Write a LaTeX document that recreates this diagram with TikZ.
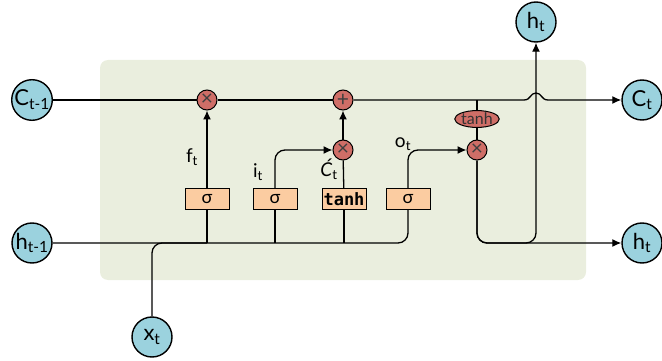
\documentclass[tikz,border=0pt]{standalone}
\usepackage{fontspec}
\setmainfont{Lato}
\setmonofont{DejaVu Sans Mono}
\usetikzlibrary{arrows.meta,shapes.geometric}
\definecolor{cellbg}{RGB}{234,238,222}
\definecolor{statecol}{RGB}{155,210,222}
\definecolor{opcol}{RGB}{207,110,103}
\definecolor{gatecol}{RGB}{251,204,161}
\tikzset{
  cellstate/.style={circle, draw, line width=1.4pt, fill=statecol, minimum size=40pt, inner sep=0pt, font=\fontsize{22}{24}\selectfont},
  gate/.style={draw, line width=1pt, fill=gatecol, minimum width=44pt, minimum height=21pt, inner sep=0pt, font=\fontsize{18}{19}\selectfont},
  op/.style={circle, draw, line width=1pt, fill=opcol, minimum size=20pt, inner sep=0pt, text=black!75, font=\fontsize{21}{21}\selectfont},
  squash/.style={ellipse, draw, line width=1pt, fill=opcol, minimum width=41pt, minimum height=16pt, inner sep=0pt, text=black!80, font=\fontsize{16}{16}\selectfont},
  lbl/.style={inner sep=0pt, font=\fontsize{19}{21}\selectfont},
}
\begin{document}
\begin{tikzpicture}[x=1pt, y=-1pt, line width=1.3pt, >={Latex[length=9pt,width=8pt]}]
    \useasboundingbox (0,0) rectangle (662,361);
    % fondo de la celda
    \fill[cellbg, rounded corners=8pt] (100,60) rectangle (586,280);
    % estados de entrada y salida
    \node[cellstate] (cprev) at (32,100) {C\textsubscript{t-1}};
    \node[cellstate] (hprev) at (32,243) {h\textsubscript{t-1}};
    \node[cellstate] (xt) at (152,337) {x\textsubscript{t}};
    \node[cellstate] (htop) at (536,22) {h\textsubscript{t}};
    \node[cellstate] (cnext) at (642,100) {C\textsubscript{t}};
    \node[cellstate] (hnext) at (642,243) {h\textsubscript{t}};
    % compuertas
    \node[gate] (forget) at (207,199) {σ};
    \node[gate] (input) at (275,199) {σ};
    \node[gate] (cand) at (344,199) {\ttfamily\bfseries\fontsize{17}{17}\selectfont tanh};
    \node[gate] (output) at (408,199) {σ};
    % operaciones punto a punto
    \node[op] (fmul) at (207,100) {×};
    \node[op] (add) at (343,100) {+};
    \node[op] (imul) at (343,150) {×};
    \node[op] (omul) at (477,150) {×};
    \node[squash] (ctanh) at (477,119) {tanh};
    % etiquetas
    \node[lbl] (flab) at (192,157) {f\textsubscript{t}};
    \node[lbl] (ilab) at (258,172) {i\textsubscript{t}};
    \node[lbl] (clab) at (329,169) {\textit{Ć}\textsubscript{t}};
    \node[lbl] (olab) at (403,144) {o\textsubscript{t}};
    % salto de la linea C
    \coordinate (jl) at (524,100);
    \coordinate (jtop) at (536,93);
    \coordinate (jr) at (548,100);
    % linea de estado C
    \draw (cprev) -- (fmul);
    \draw (fmul) -- (add);
    \draw[->] (add) -- (jl) .. controls +(7,0) and +(-6,0) .. (jtop)
        .. controls +(6,0) and +(-7,0) .. (jr) -- (cnext);
    % entradas h y x
    \draw[rounded corners=10pt] (hprev) -- (output |- hprev) -- (output);
    \draw[rounded corners=10pt] (xt) -- (xt |- hprev) -- (forget |- hprev);
    \foreach \g in {forget,input,cand}
        \draw (\g) -- (\g |- hprev);
    % flujo interno
    \draw[->] (forget) -- (fmul);
    \draw[->, rounded corners=10pt] (input) |- (imul);
    \draw (cand) -- (imul);
    \draw[->] (imul) -- (add);
    \draw[->, rounded corners=10pt] (output) |- (omul);
    \draw (ctanh) -- (ctanh |- add);
    \draw (ctanh) -- (omul);
    % salidas h
    \draw[->, rounded corners=10pt] (omul) |- (hnext);
    \draw[->, rounded corners=10pt] (omul) |- (htop |- hnext) -- (htop);
\end{tikzpicture}
\end{document}
